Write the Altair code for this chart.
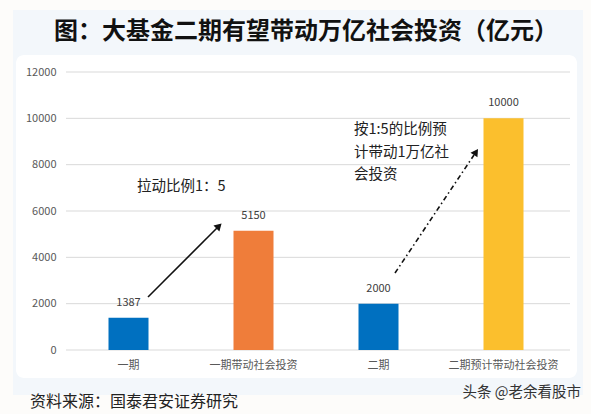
import altair as alt
import pandas as pd

categories = ["一期", "一期带动社会投资", "二期", "二期预计带动社会投资"]
values = [1387, 5150, 2000, 10000]
colors = ["#0070C0", "#EF7D3A", "#0070C0", "#FBBF2D"]
y_ticks = [0, 2000, 4000, 6000, 8000, 10000, 12000]

title_text = "图：大基金二期有望带动万亿社会投资（亿元）"
note1 = "拉动比例1：5"
note2_lines = ["按1:5的比例预", "计带动1万亿社", "会投资"]
source_text = "资料来源：国泰君安证券研究"
watermark = "头条 @老余看股市"

FONT = "Noto Sans CJK SC"
W, H = 500, 278
PL, PT = 66, 72

df = pd.DataFrame({"cat": categories, "val": values, "color": colors})
grid_df = pd.DataFrame({"val": y_ticks})
one = pd.DataFrame({"k": [0]})

x_enc = alt.X("cat:N", sort=categories,
              scale=alt.Scale(paddingInner=0, paddingOuter=0),
              axis=alt.Axis(title=None, labelAngle=0, domain=False, ticks=False,
                            labelPadding=9, labelFontSize=11, labelColor="#595959",
                            labelFont=FONT, zindex=1))
y_enc = alt.Y("val:Q", scale=alt.Scale(domain=[0, 12000], nice=False),
              axis=alt.Axis(title=None, values=y_ticks, grid=False, domain=False,
                            ticks=False, labelPadding=10, labelFontSize=11,
                            labelColor="#595959", labelFont=FONT, zindex=1,
                            format="d"))

panel = alt.Chart(one).mark_rect(color="#f3f7fb").encode(
    x=alt.value(13 - PL), x2=alt.value(583 - PL),
    y=alt.value(10 - PT), y2=alt.value(395 - PT))
inner = alt.Chart(one).mark_rect(color="#ffffff", cornerRadius=8).encode(
    x=alt.value(16 - PL), x2=alt.value(577 - PL),
    y=alt.value(55 - PT), y2=alt.value(378 - PT))

grid = alt.Chart(grid_df).mark_rule(color="#d9d9d9", strokeWidth=1).encode(
    y=y_enc, x=alt.value(0), x2=alt.value(W + 4))

bars = alt.Chart(df).mark_bar(size=40).encode(
    x=x_enc, y=y_enc, color=alt.Color("color:N", scale=None))

labels = alt.Chart(df).mark_text(dy=-10, baseline="bottom", fontSize=11,
                                 color="#404040", font=FONT).encode(
    x=x_enc, y=y_enc, text=alt.Text("val:Q", format="d"))

title = alt.Chart(one).mark_text(text=title_text, fontSize=24, fontWeight="bold",
                                 font=FONT, color="#111111", align="center",
                                 baseline="middle").encode(
    x=alt.value(306 - PL), y=alt.value(32 - PT))

t_note1 = alt.Chart(one).mark_text(text=note1, fontSize=14.5, font=FONT,
                                   color="#222222", align="left",
                                   baseline="middle").encode(
    x=alt.value(137 - PL), y=alt.value(187 - PT))

t_note2 = alt.Chart(one).mark_text(text=note2_lines, fontSize=14.5, font=FONT,
                                   color="#222222", align="left", baseline="middle",
                                   lineHeight=22.5).encode(
    x=alt.value(354 - PL), y=alt.value(130 - PT))

arrow1 = alt.Chart(one).mark_rule(color="#111111", strokeWidth=1.6).encode(
    x=alt.value(148 - PL), y=alt.value(297 - PT),
    x2=alt.value(217 - PL), y2=alt.value(228 - PT))
head1 = alt.Chart(one).mark_point(shape="triangle-up", filled=True, size=70,
                                  angle=45, color="#111111", opacity=1).encode(
    x=alt.value(219 - PL), y=alt.value(226 - PT))

arrow2 = alt.Chart(one).mark_rule(color="#111111", strokeWidth=1.6,
                                  strokeDash=[5, 3, 1.5, 3]).encode(
    x=alt.value(395 - PL), y=alt.value(273 - PT),
    x2=alt.value(474 - PL), y2=alt.value(155 - PT))
head2 = alt.Chart(one).mark_point(shape="triangle-up", filled=True, size=70,
                                  angle=34, color="#111111", opacity=1).encode(
    x=alt.value(476 - PL), y=alt.value(152 - PT))

src = alt.Chart(one).mark_text(text=source_text, fontSize=16, font=FONT,
                               color="#222222", align="left",
                               baseline="middle").encode(
    x=alt.value(30 - PL), y=alt.value(402 - PT))
wm = alt.Chart(one).mark_text(text=watermark, fontSize=14.5, font=FONT,
                              color="#333333", align="right",
                              baseline="middle").encode(
    x=alt.value(581 - PL), y=alt.value(393 - PT))

chart = alt.layer(
    panel, inner, grid, bars, labels, title, t_note1, t_note2,
    arrow1, head1, arrow2, head2, src, wm
).properties(
    width=W, height=H,
    autosize=alt.AutoSizeParams(type="none"),
    padding={"left": PL, "top": PT, "right": 591 - PL - W, "bottom": 414 - PT - H},
    background="#fdfcfa",
).configure_view(stroke=None)

chart.save("out.html", embed_options={"renderer": "svg", "actions": False})
